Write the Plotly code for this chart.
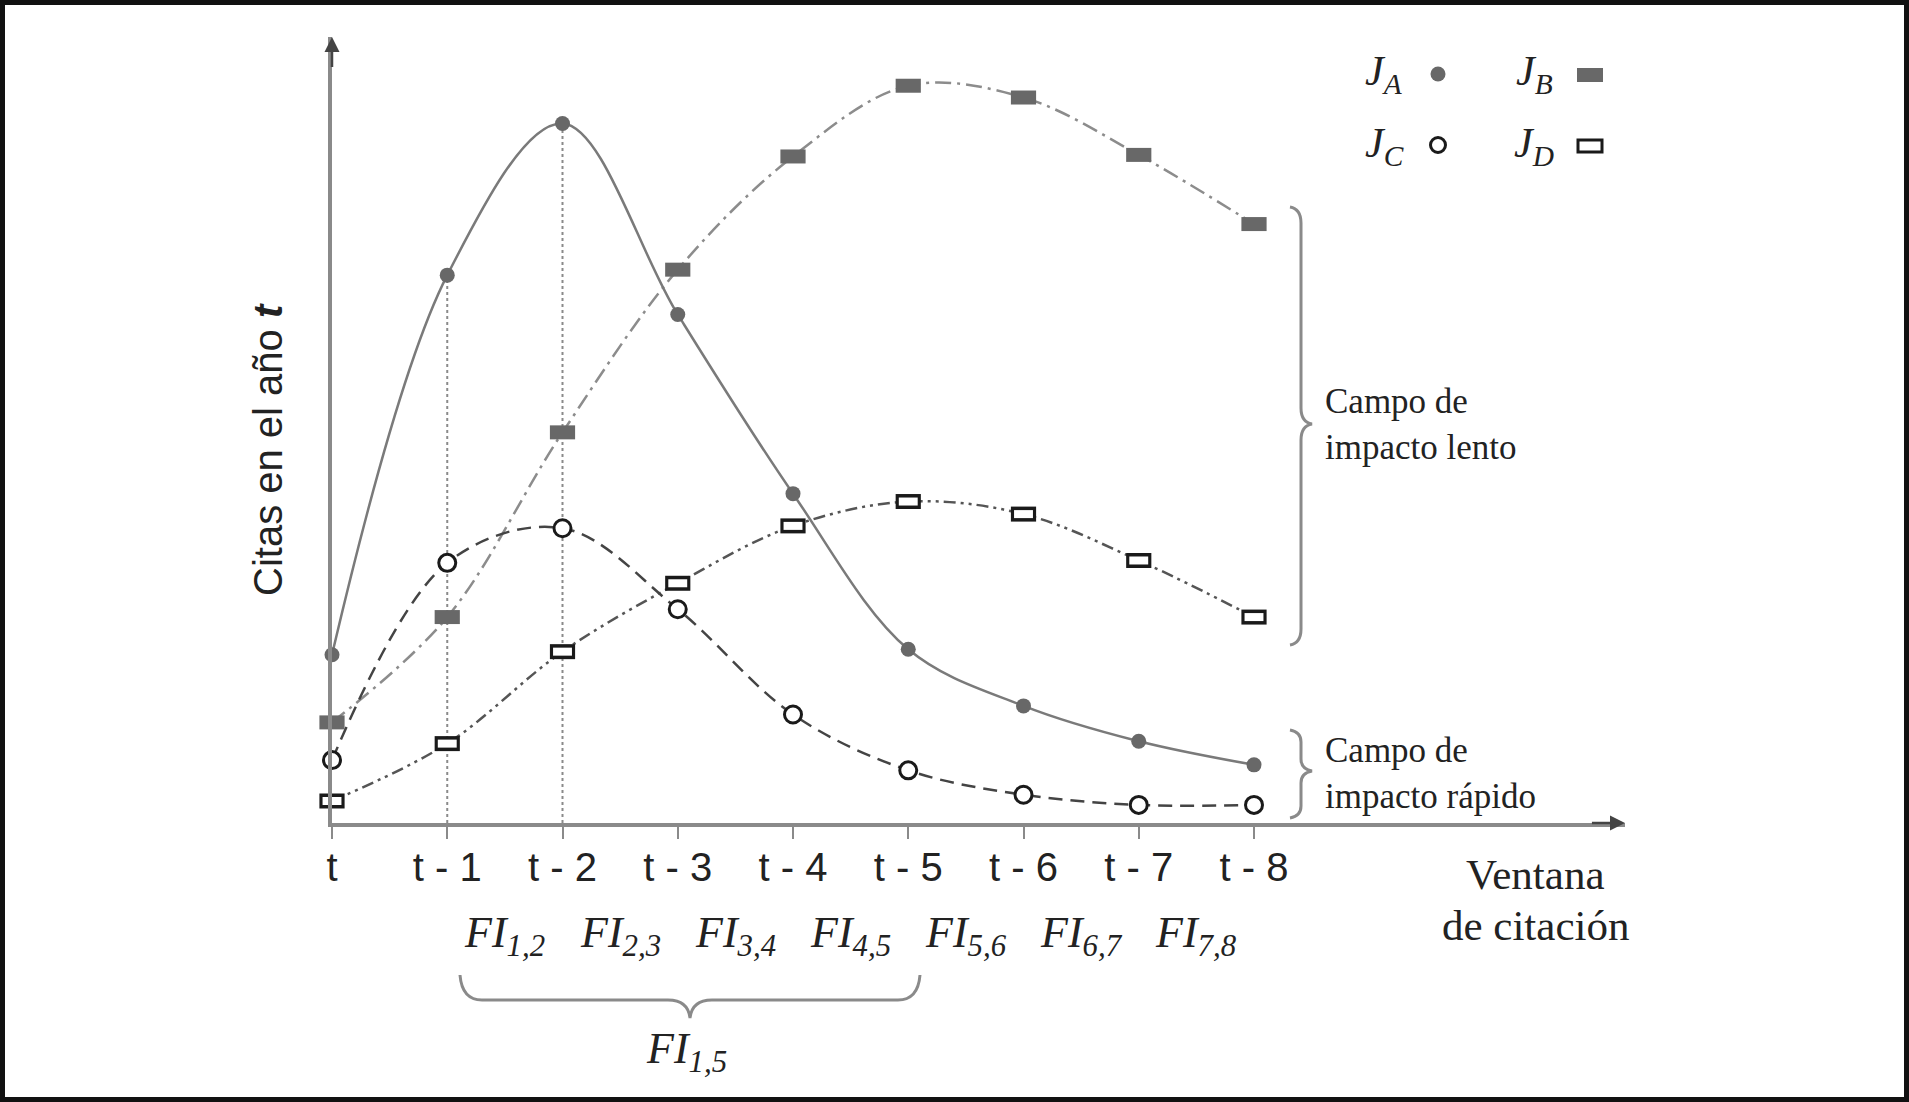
import plotly.graph_objects as go

# Eje X: ventana de citación
TICK_LABELS = ["t", "t - 1", "t - 2", "t - 3", "t - 4", "t - 5", "t - 6", "t - 7", "t - 8"]

# Citas en el año t (escala arbitraria 0-100)
J_A = [21.4, 69.7, 89.0, 64.7, 41.9, 22.1, 14.9, 10.4, 7.4]
J_B = [12.8, 26.2, 49.7, 70.4, 84.8, 93.8, 92.3, 85.0, 76.2]
J_C = [8.0, 33.1, 37.5, 27.2, 13.8, 6.7, 3.6, 2.3, 2.3]
J_D = [2.8, 10.1, 21.8, 30.5, 37.8, 40.9, 39.3, 33.4, 26.2]

FI_SUBS = ["1,2", "2,3", "3,4", "4,5", "5,6", "6,7", "7,8"]
DROP_LINES = [1, 2]

W, H = 1909, 1102
L, R, T, B = 332, 284, 37, 279
X_MAX = (W - L - R) / 115.25

SERIF = "Liberation Serif, Times New Roman, serif"
SANS = "Liberation Sans, Arial, sans-serif"
TXT = "#222222"
FILL_GREY = "#686868"


def pp(x, y):
	# pixel -> paper
	return (x - L) / (W - L - R), (H - B - y) / (H - T - B)


def path_paper(points):
	out = ""
	for cmd, pts in points:
		out += cmd + " ".join("%.5f,%.5f" % pp(x, y) for x, y in pts) + " "
	return out.strip()


def h_brace(x0, x1, ytop, ymid, ytip):
	c = (x0 + x1) / 2
	return path_paper([
		("M", [(x0, ytop)]),
		("Q", [(x0 + 2, ymid), (x0 + 22, ymid)]),
		("L", [(c - 22, ymid)]),
		("Q", [(c - 2, ymid), (c, ytip)]),
		("Q", [(c + 2, ymid), (c + 22, ymid)]),
		("L", [(x1 - 22, ymid)]),
		("Q", [(x1 - 2, ymid), (x1, ytop)]),
	])


def v_brace(y0, y1, xend, xmid, xtip, ytip, r=16):
	return path_paper([
		("M", [(xend, y0)]),
		("Q", [(xmid, y0 + 2), (xmid, y0 + r)]),
		("L", [(xmid, ytip - r)]),
		("Q", [(xmid, ytip - 2), (xtip, ytip)]),
		("Q", [(xmid, ytip + 2), (xmid, ytip + r)]),
		("L", [(xmid, y1 - r)]),
		("Q", [(xmid, y1 - 2), (xend, y1)]),
	])


def note(text, px_, py_, font, **kw):
	ax_, ay_ = pp(px_, py_)
	d = dict(x=ax_, y=ay_, xref="paper", yref="paper", showarrow=False,
		xanchor="center", yanchor="middle", text=text, font=font)
	d.update(kw)
	return d


def rect_marker(size, color, width):
	# wide rectangle = thick horizontal line symbol
	return dict(symbol="line-ew", size=size, color=color, line=dict(color=color, width=width))


def main():
	x = list(range(len(TICK_LABELS)))
	fig = go.Figure()

	# dotted guides down from J_A
	for i in DROP_LINES:
		fig.add_trace(go.Scatter(
			x=[x[i], x[i]], y=[0, J_A[i]], mode="lines",
			line=dict(color="#8a8a8a", width=2, dash="dot"),
			hoverinfo="skip", showlegend=False))

	fig.add_trace(go.Scatter(
		x=x, y=J_B, name="J_B", mode="lines", line_shape="spline",
		line=dict(color="#8c8c8c", width=2.5, dash="16px,6px,3px,6px"),
		cliponaxis=False, showlegend=False))
	fig.add_trace(go.Scatter(
		x=x, y=J_B, mode="markers", marker=rect_marker(18, FILL_GREY, 14),
		cliponaxis=False, hoverinfo="skip", showlegend=False))

	fig.add_trace(go.Scatter(
		x=x, y=J_D, name="J_D", mode="lines", line_shape="spline",
		line=dict(color="#555555", width=2.5, dash="12px,5px,3px,5px,3px,5px"),
		cliponaxis=False, showlegend=False))
	fig.add_trace(go.Scatter(
		x=x, y=J_D, mode="markers", marker=rect_marker(18, "#1a1a1a", 15),
		cliponaxis=False, hoverinfo="skip", showlegend=False))
	fig.add_trace(go.Scatter(
		x=x, y=J_D, mode="markers", marker=rect_marker(13.5, "#ffffff", 8),
		cliponaxis=False, hoverinfo="skip", showlegend=False))

	fig.add_trace(go.Scatter(
		x=x, y=J_C, name="J_C", mode="lines+markers", line_shape="spline",
		line=dict(color="#444444", width=2.5, dash="14px,8px"),
		marker=dict(symbol="circle", size=17, color="white", line=dict(color="#1a1a1a", width=3)),
		cliponaxis=False, showlegend=False))

	fig.add_trace(go.Scatter(
		x=x, y=J_A, name="J_A", mode="lines+markers", line_shape="spline",
		line=dict(color="#7a7a7a", width=2.5),
		marker=dict(symbol="circle", size=15, color=FILL_GREY),
		cliponaxis=False, showlegend=False))

	annotations = []
	annotations.append(note("Citas en el año <b><i>t</i></b>", 268, 450,
		dict(family=SANS, size=40, color=TXT), textangle=-90))
	annotations.append(note("Ventana", 1535, 874, dict(family=SERIF, size=43, color=TXT)))
	annotations.append(note("de citación", 1535, 925, dict(family=SERIF, size=43, color=TXT)))

	# FI labels between ticks
	_, fy = pp(0, 936)
	for k, sub in enumerate(FI_SUBS):
		annotations.append(dict(
			x=x[k + 1] + 0.5, y=fy, xref="x", yref="paper", showarrow=False,
			xanchor="center", yanchor="middle",
			text="<i>FI<sub>%s</sub></i>" % sub, font=dict(family=SERIF, size=44, color=TXT)))

	annotations.append(note("<i>FI<sub>1,5</sub></i>", 686, 1051,
		dict(family=SERIF, size=44, color=TXT)))

	for txt, yy in [("Campo de<br>impacto lento", 424), ("Campo de<br>impacto rápido", 773)]:
		annotations.append(note(txt, 1323, yy, dict(family=SERIF, size=35, color=TXT),
			xanchor="left", align="left"))

	# legend texts
	for txt, px_, py_ in [("A", 1384, 74), ("B", 1534, 74), ("C", 1384, 146), ("D", 1534, 146)]:
		annotations.append(note("<i>J<sub>%s</sub></i>" % txt, px_, py_,
			dict(family=SERIF, size=42, color=TXT)))

	# axis arrows
	annotations.append(dict(
		x=0, y=100, ax=0, ay=96, xref="x", yref="y", axref="x", ayref="y",
		showarrow=True, arrowhead=2, arrowsize=1.2, arrowwidth=2.5, arrowcolor="#444444", text=""))
	annotations.append(dict(
		x=X_MAX, y=0, ax=X_MAX - 0.3, ay=0, xref="x", yref="y", axref="x", ayref="y",
		showarrow=True, arrowhead=2, arrowsize=1.2, arrowwidth=2.5, arrowcolor="#444444", text=""))

	shapes = []
	brace_line = dict(color="#8a8a8a", width=3)
	shapes.append(dict(type="path", xref="paper", yref="paper", line=brace_line,
		path=h_brace(460, 920, 975, 1000, 1018)))
	shapes.append(dict(type="path", xref="paper", yref="paper", line=brace_line,
		path=v_brace(207, 645, 1290, 1301, 1312, 424)))
	shapes.append(dict(type="path", xref="paper", yref="paper", line=brace_line,
		path=v_brace(730, 818, 1290, 1301, 1312, 771, r=12)))

	# legend keys
	def key(px_, py_, w, h, fill, line_color, lw, kind):
		kx, ky = pp(px_, py_)
		return dict(type=kind, xref="paper", yref="paper", xsizemode="pixel", ysizemode="pixel",
			xanchor=kx, yanchor=ky, x0=-w / 2, x1=w / 2, y0=-h / 2, y1=h / 2,
			fillcolor=fill, line=dict(color=line_color, width=lw))

	shapes.append(key(1438, 74, 15, 15, FILL_GREY, FILL_GREY, 0, "circle"))
	shapes.append(key(1590, 75, 26, 14, FILL_GREY, FILL_GREY, 0, "rect"))
	shapes.append(key(1438, 145, 15, 15, "white", "#1a1a1a", 3, "circle"))
	shapes.append(key(1590, 146, 24, 12, "white", "#1a1a1a", 3, "rect"))

	# black frame
	fx0, fy0 = pp(0, 0)
	fx1, fy1 = pp(W, H)
	shapes.append(dict(type="rect", xref="paper", yref="paper", x0=fx0, y0=fy1, x1=fx1, y1=fy0,
		line=dict(color="#111111", width=10), fillcolor="rgba(0,0,0,0)"))

	fig.update_layout(
		width=W, height=H,
		margin=dict(l=L, r=R, t=T, b=B, pad=0),
		paper_bgcolor="white", plot_bgcolor="white",
		annotations=annotations, shapes=shapes,
		showlegend=False,
	)
	fig.update_xaxes(
		range=[0, X_MAX], tickvals=x, ticktext=TICK_LABELS,
		showline=True, linecolor="#8a8a8a", linewidth=4,
		ticks="outside", ticklen=12, tickwidth=2, tickcolor="#8a8a8a",
		tickfont=dict(family=SANS, size=40, color=TXT), ticklabelstandoff=-6,
		showgrid=False, zeroline=False, automargin=False)
	fig.update_yaxes(
		range=[0, 100], showline=True, linecolor="#8a8a8a", linewidth=4,
		showticklabels=False, ticks="", showgrid=False, zeroline=False, automargin=False)

	fig.write_html("out.html", config={"displayModeBar": False},
		post_script="document.body.style.margin='0';document.body.style.overflow='hidden';")


if __name__ == "__main__":
	main()
